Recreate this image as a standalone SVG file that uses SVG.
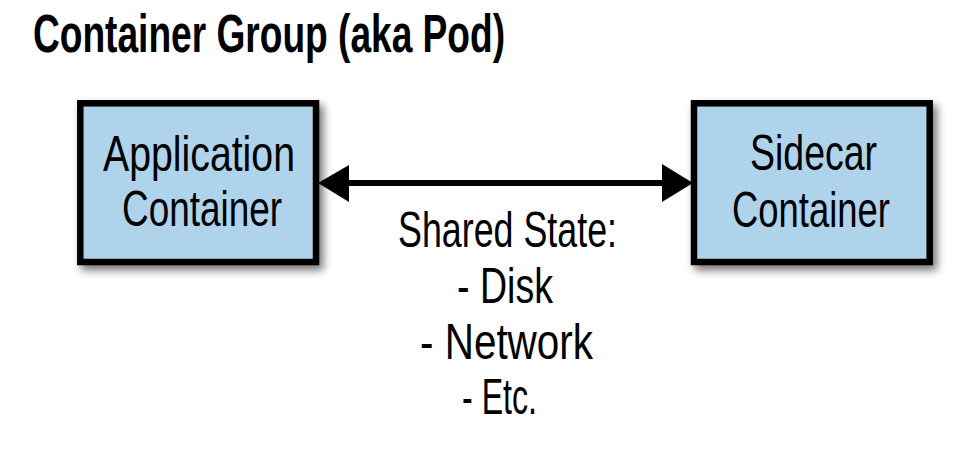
<svg xmlns="http://www.w3.org/2000/svg" width="974" height="456" viewBox="0 0 974 456">
  <style>
    .title { font-family: "Liberation Sans Narrow", "Liberation Sans", Arial, sans-serif; font-size: 53px; font-weight: bold; fill: #000; }
    .lbl { font-family: "Liberation Sans Narrow", "Liberation Sans", Arial, sans-serif; font-size: 50px; fill: #000; text-anchor: middle; }
    .box { fill: #afd3ea; stroke: #000; stroke-width: 6.5; filter: url(#shadow); }
    .conn { stroke: #000; stroke-width: 6; fill: none; }
  </style>
  <defs>
    <filter id="shadow" x="-10%" y="-10%" width="130%" height="130%">
      <feDropShadow dx="4" dy="5" stdDeviation="4" flood-color="#000" flood-opacity="0.55"/>
    </filter>
  </defs>
  <rect width="974" height="456" fill="#fff"/>
  <text class="title" x="33" y="52" textLength="472" lengthAdjust="spacingAndGlyphs">Container Group (aka Pod)</text>

  <g id="app-container">
    <rect class="box" x="80.3" y="103.3" width="235.7" height="158.7"/>
    <text class="lbl" x="199" y="171" textLength="192" lengthAdjust="spacingAndGlyphs">Application</text>
    <text class="lbl" x="202" y="226" textLength="160" lengthAdjust="spacingAndGlyphs">Container</text>
  </g>

  <g id="sidecar-container">
    <rect class="box" x="694" y="103.3" width="235.7" height="158.7"/>
    <text class="lbl" x="813.5" y="170" textLength="127" lengthAdjust="spacingAndGlyphs">Sidecar</text>
    <text class="lbl" x="811" y="227" textLength="158" lengthAdjust="spacingAndGlyphs">Container</text>
  </g>

  <g id="connectors">
    <line class="conn" x1="345" y1="183" x2="665" y2="183"/>
    <polygon points="318,183 349,165 349,202" fill="#000"/>
    <polygon points="693,183 662,164 662,202" fill="#000"/>
  </g>

  <g id="shared-state-label">
    <text class="lbl" x="507.5" y="247" textLength="219" lengthAdjust="spacingAndGlyphs">Shared State:</text>
    <text class="lbl" x="505" y="303" textLength="96" lengthAdjust="spacingAndGlyphs">- Disk</text>
    <text class="lbl" x="506.5" y="359" textLength="173" lengthAdjust="spacingAndGlyphs">- Network</text>
    <text class="lbl" x="499.5" y="414" textLength="75" lengthAdjust="spacingAndGlyphs">- Etc.</text>
  </g>
</svg>
